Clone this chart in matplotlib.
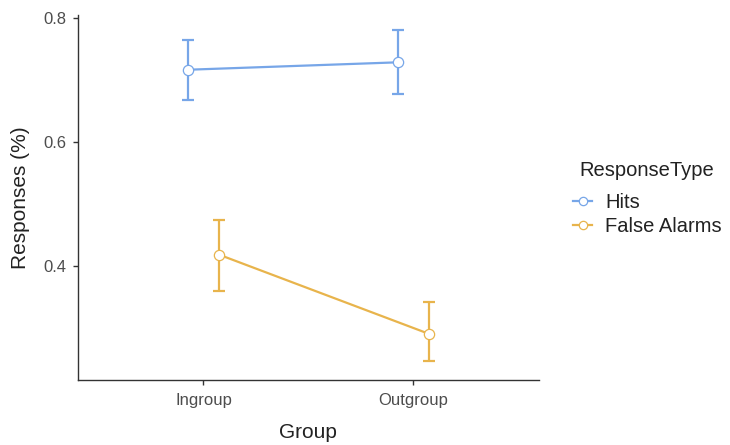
import matplotlib
matplotlib.use("Agg")
import matplotlib.pyplot as plt
from matplotlib.lines import Line2D

plt.rcParams['font.family'] = ['Liberation Sans', 'DejaVu Sans']

groups = ["Ingroup", "Outgroup"]
series = ["Hits", "False Alarms"]
means = {
    "Hits": [0.717, 0.729],
    "False Alarms": [0.418, 0.290],
}
lower = {
    "Hits": [0.668, 0.678],
    "False Alarms": [0.360, 0.247],
}
upper = {
    "Hits": [0.765, 0.781],
    "False Alarms": [0.474, 0.342],
}
colors = {"Hits": "#77A6E8", "False Alarms": "#E8B44C"}
dodge = {"Hits": -0.075, "False Alarms": 0.075}

fig = plt.figure(figsize=(7.3, 4.45), dpi=100)
ax = fig.add_axes([77.5 / 730, 65 / 445, (539.3 - 77.5) / 730, (380 - 15) / 445])

handles = []
for s in series:
    xs = [i + 1 + dodge[s] for i in range(len(groups))]
    m = means[s]
    yerr = [[a - b for a, b in zip(m, lower[s])], [b - a for a, b in zip(m, upper[s])]]
    ax.errorbar(xs, m, yerr=yerr, fmt='none', ecolor=colors[s], elinewidth=1.6,
                capsize=4.0, capthick=1.6, zorder=2)
    ax.plot(xs, m, color=colors[s], lw=1.6, zorder=3)
    ax.plot(xs, m, 'o', ms=7.4, mfc='white', mec=colors[s], mew=0.9, zorder=4)
    handles.append(Line2D([0], [0], color=colors[s], lw=1.6, marker='o', ms=6,
                          mfc='white', mec=colors[s], mew=0.9))

ax.set_xlim(0.4, 2.6)
ax.set_ylim(0.2155, 0.8055)
ax.set_xticks([1, 2])
ax.set_xticklabels(groups)
ax.set_yticks([0.4, 0.6, 0.8])
ax.set_yticklabels(["0.4", "0.6", "0.8"])

for side in ("top", "right"):
    ax.spines[side].set_visible(False)
for side in ("left", "bottom"):
    ax.spines[side].set_color("#333333")
    ax.spines[side].set_linewidth(1.0)
ax.tick_params(axis='both', length=3.3, width=1.0, color="#333333",
               labelcolor="#4D4D4D", labelsize=12)
ax.tick_params(axis='x', pad=6)
ax.tick_params(axis='y', pad=5)

ax.set_xlabel("Group", fontsize=15, color="#222222", labelpad=11)
ax.set_ylabel("Responses (%)", fontsize=15, color="#222222", labelpad=9)

# Legend title drawn on its own so its gap to the keys can be set freely
fig.text(579 / 730, 1 - 170 / 445, "ResponseType", fontsize=14.5,
         color="#222222", ha="left", va="center")
leg = fig.legend(handles, series, loc="upper left",
                 bbox_to_anchor=(555 / 730, 1 - 175 / 445), frameon=False,
                 fontsize=14.5, handlelength=0.95,
                 handletextpad=0.65, labelspacing=0.25)
for t in leg.get_texts():
    t.set_color("#222222")

fig.savefig("out.png", dpi=100)
